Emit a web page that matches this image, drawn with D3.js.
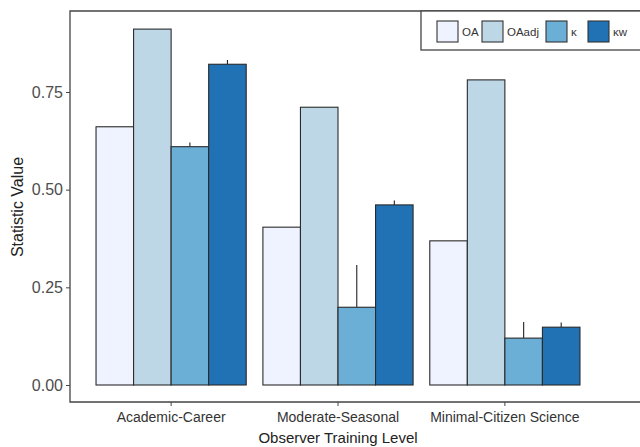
<!DOCTYPE html>
<html>
<head>
<meta charset="utf-8">
<script src="https://cdn.jsdelivr.net/npm/d3@7"></script>
<style>
  body { margin: 0; background: #fff; }
  svg { display: block; font-family: "Liberation Sans", Arial, sans-serif; }
</style>
</head>
<body>
<svg id="chart" width="640" height="447"></svg>
<script>
const categories = ["Academic-Career", "Moderate-Seasonal", "Minimal-Citizen Science"];
const series = ["OA", "OAadj", "κ", "κw"];
const colors = ["#eff3ff", "#bdd7e7", "#6baed6", "#2171b5"];
const valuesOA    = [0.661, 0.404, 0.369];
const valuesOAadj = [0.911, 0.711, 0.781];
const valuesK     = [0.610, 0.199, 0.120];
const valuesKw    = [0.821, 0.461, 0.148];
const upperK      = [0.621, 0.307, 0.161];
const upperKw     = [0.832, 0.472, 0.160];
const yTicks = [0, 0.25, 0.5, 0.75];
const yTickLabels = ["0.00", "0.25", "0.50", "0.75"];

const seriesValues = [valuesOA, valuesOAadj, valuesK, valuesKw];
const seriesUpper = [null, null, upperK, upperKw];

const svg = d3.select("#chart");
const panel = { left: 70, top: 11, right: 700, bottom: 402 };

const x0 = d3.scaleBand().domain(categories).range([71, 605]).paddingInner(0.1).paddingOuter(0.15);
const x1 = d3.scaleBand().domain(series).range([0, x0.bandwidth()]);
const y = d3.scaleLinear().domain([0, 0.75]).range([385, 92]);
const color = d3.scaleOrdinal().domain(series).range(colors);

const rows = [];
categories.forEach((c, ci) => {
  series.forEach((s, si) => {
    rows.push({ cat: c, ser: s, value: seriesValues[si][ci], upper: seriesUpper[si] ? seriesUpper[si][ci] : null });
  });
});

// error segments (upper part)
svg.append("g").selectAll("line").data(rows.filter(d => d.upper !== null)).join("line")
  .attr("x1", d => x0(d.cat) + x1(d.ser) + x1.bandwidth() / 2)
  .attr("x2", d => x0(d.cat) + x1(d.ser) + x1.bandwidth() / 2)
  .attr("y1", d => y(d.value))
  .attr("y2", d => y(d.upper))
  .attr("stroke", "#222").attr("stroke-width", 1.1);

// bars
svg.append("g").selectAll("rect").data(rows).join("rect")
  .attr("x", d => x0(d.cat) + x1(d.ser))
  .attr("y", d => y(d.value))
  .attr("width", x1.bandwidth())
  .attr("height", d => y(0) - y(d.value))
  .attr("fill", d => color(d.ser))
  .attr("stroke", "#2a2a2a").attr("stroke-width", 1.1);

// panel border (left, top, bottom)
svg.append("path")
  .attr("d", `M${panel.right},${panel.top}H${panel.left}V${panel.bottom}H${panel.right}`)
  .attr("fill", "none").attr("stroke", "#444").attr("stroke-width", 1.3);

// y axis
const yAxis = d3.axisLeft(y).tickValues(yTicks).tickFormat((d, i) => yTickLabels[i]).tickSize(4).tickPadding(3);
const gy = svg.append("g").attr("transform", `translate(${panel.left},0)`).call(yAxis);
gy.select(".domain").remove();
gy.selectAll(".tick line").attr("stroke", "#444");
gy.selectAll(".tick text").attr("font-size", 16).attr("fill", "#4d4d4d").attr("font-family", "Liberation Sans, Arial, sans-serif");

// x axis
const xAxis = d3.axisBottom(x0).tickSize(4).tickPadding(6);
const gx = svg.append("g").attr("transform", `translate(0,${panel.bottom})`).call(xAxis);
gx.select(".domain").remove();
gx.selectAll(".tick line").attr("stroke", "#444");
gx.selectAll(".tick text").attr("font-size", 14).attr("fill", "#333").attr("font-family", "Liberation Sans, Arial, sans-serif");

// axis titles
svg.append("text").attr("x", 338).attr("y", 443).attr("text-anchor", "middle")
  .attr("font-size", 15).attr("fill", "#222").text("Observer Training Level");
svg.append("text").attr("transform", "translate(23,207) rotate(-90)").attr("text-anchor", "middle")
  .attr("font-size", 16).attr("fill", "#222").text("Statistic Value");

// legend
const lg = svg.append("g");
lg.append("rect").attr("x", 421).attr("y", 11).attr("width", 260).attr("height", 39)
  .attr("fill", "#fff").attr("stroke", "#444").attr("stroke-width", 1.3);
const keyX = [437, 482, 546, 588];
series.forEach((s, i) => {
  lg.append("rect").attr("x", keyX[i]).attr("y", 21).attr("width", 21).attr("height", 21)
    .attr("fill", color(s)).attr("stroke", "#333").attr("stroke-width", 1.1);
  lg.append("text").attr("x", keyX[i] + 25).attr("y", 36).attr("font-size", 11.5).attr("fill", "#333").text(s);
});
</script>
</body>
</html>
